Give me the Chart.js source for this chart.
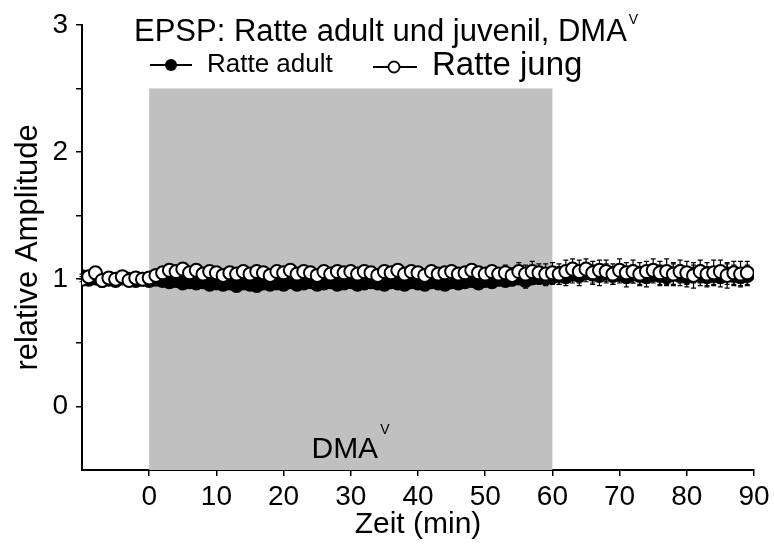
<!DOCTYPE html>
<html>
<head>
<meta charset="utf-8">
<script src="https://cdn.jsdelivr.net/npm/chart.js@4.4.1/dist/chart.umd.min.js"></script>
<style>
  body { margin: 0; background: #fff; }
  #wrap { width: 774px; height: 547px; }
</style>
</head>
<body>
<div id="wrap"><canvas id="epsp" width="774" height="547"></canvas></div>
<script>
// Zeit in Minuten (ein Punkt pro Minute)
const minutes = [
  -10, -9, -8, -7, -6, -5, -4, -3, -2, -1,
  0, 1, 2, 3, 4, 5, 6, 7, 8, 9,
  10, 11, 12, 13, 14, 15, 16, 17, 18, 19,
  20, 21, 22, 23, 24, 25, 26, 27, 28, 29,
  30, 31, 32, 33, 34, 35, 36, 37, 38, 39,
  40, 41, 42, 43, 44, 45, 46, 47, 48, 49,
  50, 51, 52, 53, 54, 55, 56, 57, 58, 59,
  60, 61, 62, 63, 64, 65, 66, 67, 68, 69,
  70, 71, 72, 73, 74, 75, 76, 77, 78, 79,
  80, 81, 82, 83, 84, 85, 86, 87, 88, 89
];

const adultMean = [
  1.02, 1.00, 1.01, 0.99, 1.00, 0.99, 1.01, 1.00, 0.99, 1.00,
  0.99, 1.00, 0.99, 0.98, 0.99, 0.97, 0.98, 0.97, 0.98, 0.96,
  0.97, 0.96, 0.97, 0.95, 0.97, 0.96, 0.95, 0.97, 0.96, 0.97,
  0.96, 0.98, 0.96, 0.97, 0.98, 0.96, 0.97, 0.98, 0.96, 0.97,
  0.98, 0.96, 0.97, 0.98, 0.97, 0.96, 0.98, 0.97, 0.96, 0.98,
  0.97, 0.96, 0.98, 0.97, 0.96, 0.98, 0.97, 0.98, 0.99, 0.97,
  0.99, 0.98, 1.00, 0.99, 1.00, 1.01, 0.99, 1.01, 1.02, 1.01,
  1.02, 1.03, 1.02, 1.04, 1.03, 1.05, 1.04, 1.03, 1.05, 1.03,
  1.04, 1.02, 1.04, 1.03, 1.02, 1.04, 1.03, 1.02, 1.04, 1.03,
  1.02, 1.04, 1.03, 1.02, 1.03, 1.02, 1.04, 1.03, 1.02, 1.03
];
const adultErr = [
  0.02, 0.02, 0.02, 0.02, 0.02, 0.02, 0.02, 0.02, 0.02, 0.02,
  0.02, 0.03, 0.03, 0.03, 0.03, 0.03, 0.03, 0.03, 0.03, 0.03,
  0.03, 0.04, 0.03, 0.04, 0.03, 0.04, 0.03, 0.04, 0.03, 0.04,
  0.03, 0.03, 0.04, 0.03, 0.03, 0.04, 0.03, 0.03, 0.03, 0.03,
  0.03, 0.04, 0.03, 0.03, 0.04, 0.03, 0.03, 0.03, 0.04, 0.03,
  0.03, 0.04, 0.03, 0.03, 0.03, 0.04, 0.03, 0.03, 0.03, 0.04,
  0.04, 0.04, 0.05, 0.04, 0.05, 0.05, 0.06, 0.05, 0.06, 0.06,
  0.06, 0.07, 0.07, 0.07, 0.08, 0.07, 0.07, 0.08, 0.07, 0.07,
  0.07, 0.08, 0.07, 0.07, 0.08, 0.07, 0.08, 0.07, 0.08, 0.08,
  0.08, 0.07, 0.08, 0.08, 0.07, 0.08, 0.08, 0.08, 0.07, 0.08
];

const jungMean = [
  1.00, 1.02, 1.05, 0.99, 1.01, 1.00, 1.02, 0.99, 1.01, 1.00,
  1.01, 1.03, 1.05, 1.07, 1.06, 1.08, 1.05, 1.07, 1.04, 1.06,
  1.05, 1.03, 1.05, 1.04, 1.06, 1.04, 1.06, 1.05, 1.03, 1.06,
  1.05, 1.07, 1.04, 1.06, 1.05, 1.03, 1.06, 1.04, 1.06, 1.05,
  1.06, 1.04, 1.06, 1.05, 1.03, 1.06, 1.05, 1.07, 1.04, 1.06,
  1.05, 1.03, 1.06, 1.04, 1.05, 1.06, 1.04, 1.05, 1.07, 1.05,
  1.04, 1.06, 1.04, 1.05, 1.03, 1.06, 1.04, 1.06, 1.05, 1.04,
  1.05, 1.04, 1.06, 1.08, 1.06, 1.08, 1.05, 1.07, 1.06, 1.04,
  1.07, 1.05, 1.06, 1.04, 1.06, 1.07, 1.05, 1.06, 1.04, 1.06,
  1.05, 1.03, 1.06, 1.04, 1.05, 1.06, 1.03, 1.05, 1.04, 1.05
];
const jungErr = [
  0.02, 0.02, 0.03, 0.02, 0.02, 0.02, 0.02, 0.02, 0.02, 0.02,
  0.02, 0.02, 0.03, 0.03, 0.03, 0.03, 0.03, 0.03, 0.03, 0.03,
  0.03, 0.03, 0.03, 0.03, 0.03, 0.03, 0.03, 0.03, 0.03, 0.03,
  0.03, 0.03, 0.03, 0.03, 0.03, 0.03, 0.03, 0.03, 0.03, 0.03,
  0.03, 0.03, 0.04, 0.03, 0.03, 0.04, 0.03, 0.04, 0.03, 0.03,
  0.04, 0.03, 0.04, 0.03, 0.04, 0.04, 0.03, 0.04, 0.04, 0.04,
  0.04, 0.04, 0.05, 0.06, 0.06, 0.07, 0.07, 0.08, 0.07, 0.08,
  0.08, 0.08, 0.09, 0.08, 0.09, 0.08, 0.09, 0.08, 0.09, 0.08,
  0.09, 0.08, 0.09, 0.09, 0.08, 0.09, 0.09, 0.10, 0.09, 0.09,
  0.09, 0.10, 0.09, 0.09, 0.10, 0.09, 0.10, 0.09, 0.10, 0.09
];

const xTicks = [0, 10, 20, 30, 40, 50, 60, 70, 80, 90];
const dmaStart = 0;
const dmaEnd = 60;
const dmaTop = 2.5;

const FONT = "'Liberation Sans', Arial, sans-serif";

function toPoints(means) {
  return minutes.map((m, i) => ({ x: m, y: means[i] }));
}

// grauer DMA-Balken, Beschriftung und Fehlerbalken unter den Punkten
const backdropPlugin = {
  id: 'backdrop',
  beforeDatasetsDraw(chart) {
    const { ctx, scales: { x, y } } = chart;
    const x0 = x.getPixelForValue(dmaStart);
    const x1 = x.getPixelForValue(dmaEnd);
    const yTop = y.getPixelForValue(dmaTop);
    const yBot = chart.chartArea.bottom;
    ctx.save();
    ctx.fillStyle = '#c0c0c0';
    ctx.fillRect(x0, yTop, x1 - x0, yBot - yTop);

    // DMA^V
    const cx = (x0 + x1) / 2;
    ctx.fillStyle = '#000';
    ctx.font = '30px ' + FONT;
    ctx.textBaseline = 'alphabetic';
    const w = ctx.measureText('DMA').width;
    ctx.textAlign = 'left';
    ctx.fillText('DMA', cx - w / 2 - 6, 458);
    ctx.font = '14px ' + FONT;
    ctx.fillText('V', cx + w / 2 - 4, 434);

    // Fehlerbalken
    ctx.strokeStyle = '#000';
    ctx.lineWidth = 1.2;
    const errs = [jungErr, adultErr];
    chart.data.datasets.forEach((ds, di) => {
      const meta = chart.getDatasetMeta(di);
      meta.data.forEach((pt, i) => {
        const e = errs[di][i];
        const yHi = y.getPixelForValue(ds.data[i].y + e);
        const yLo = y.getPixelForValue(ds.data[i].y - e);
        ctx.beginPath();
        ctx.moveTo(pt.x, yHi); ctx.lineTo(pt.x, yLo);
        ctx.moveTo(pt.x - 2.5, yHi); ctx.lineTo(pt.x + 2.5, yHi);
        ctx.moveTo(pt.x - 2.5, yLo); ctx.lineTo(pt.x + 2.5, yLo);
        ctx.stroke();
      });
    });
    ctx.restore();
  },
  afterDraw(chart) {
    const { ctx } = chart;
    ctx.save();
    ctx.fillStyle = '#000';
    ctx.textAlign = 'left';
    ctx.textBaseline = 'alphabetic';
    // Titel
    ctx.font = '31px ' + FONT;
    const t = 'EPSP: Ratte adult und juvenil, DMA';
    ctx.fillText(t, 134, 41);
    const tw = ctx.measureText(t).width;
    ctx.font = '14px ' + FONT;
    ctx.fillText('V', 134 + tw + 2, 24);

    // Legende
    ctx.strokeStyle = '#000';
    ctx.lineWidth = 1.8;
    ctx.beginPath();
    ctx.moveTo(150, 65); ctx.lineTo(192, 65);
    ctx.stroke();
    ctx.beginPath();
    ctx.arc(171, 65, 6, 0, Math.PI * 2);
    ctx.fillStyle = '#000';
    ctx.fill();
    ctx.font = '26px ' + FONT;
    ctx.fillText('Ratte adult', 207, 72);

    ctx.beginPath();
    ctx.moveTo(373, 67); ctx.lineTo(417, 67);
    ctx.stroke();
    ctx.beginPath();
    ctx.arc(394, 67, 5.5, 0, Math.PI * 2);
    ctx.fillStyle = '#fff';
    ctx.fill();
    ctx.stroke();
    ctx.fillStyle = '#000';
    ctx.font = '33px ' + FONT;
    ctx.fillText('Ratte jung', 432, 75);
    ctx.restore();
  }
};

new Chart(document.getElementById('epsp'), {
  type: 'line',
  data: {
    datasets: [
      {
        label: 'Ratte jung',
        data: toPoints(jungMean),
        borderColor: '#000',
        borderWidth: 1,
        backgroundColor: '#fff',
        pointBackgroundColor: '#fff',
        pointBorderColor: '#000',
        pointBorderWidth: 2,
        pointRadius: 6.5,
        tension: 0
      },
      {
        label: 'Ratte adult',
        data: toPoints(adultMean),
        borderColor: '#000',
        borderWidth: 1,
        backgroundColor: '#000',
        pointBackgroundColor: '#000',
        pointBorderColor: '#000',
        pointBorderWidth: 2,
        pointRadius: 6.5,
        tension: 0
      }
    ]
  },
  options: {
    responsive: false,
    animation: false,
    events: [],
    layout: { padding: { top: 22, right: 20, left: 0, bottom: 0 } },
    plugins: {
      legend: { display: false },
      title: { display: false },
      tooltip: { enabled: false }
    },
    scales: {
      x: {
        type: 'linear',
        min: -10,
        max: 90,
        afterBuildTicks: s => { s.ticks = xTicks.map(v => ({ value: v })); },
        afterFit: s => { s.height = 77; },
        border: { color: '#000', width: 2 },
        grid: { drawOnChartArea: false, drawTicks: true, tickLength: 6, color: '#000', lineWidth: 1.5 },
        ticks: { color: '#000', font: { family: FONT, size: 28 }, padding: 4, maxRotation: 0 },
        title: { display: true, text: 'Zeit (min)', color: '#000', font: { family: FONT, size: 30 }, padding: { top: 0, bottom: 4 } }
      },
      y: {
        min: -0.5,
        max: 3,
        afterFit: s => { s.width = 82; },
        border: { color: '#000', width: 2 },
        grid: {
          drawOnChartArea: false,
          drawTicks: true,
          tickLength: 6,
          lineWidth: 1.5,
          color: c => (c.tick && c.tick.value === -0.5) ? 'rgba(0,0,0,0)' : '#000'
        },
        ticks: {
          stepSize: 0.5,
          color: '#000',
          padding: 8,
          font: { family: FONT, size: 28 },
          callback: v => (Number.isInteger(v) && v >= 0) ? String(v) : ''
        },
        title: { display: true, text: 'relative Amplitude', color: '#000', font: { family: FONT, size: 31 }, padding: { top: 10, bottom: 0 } }
      }
    }
  },
  plugins: [backdropPlugin]
});
</script>
</body>
</html>
